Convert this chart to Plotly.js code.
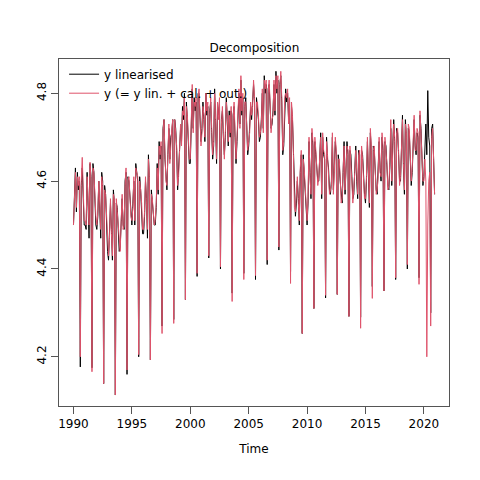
<!DOCTYPE html>
<html>
<head>
<meta charset="utf-8">
<script src="https://cdn.plot.ly/plotly-3.0.1.min.js"></script>
<style>html,body{margin:0;padding:0;background:#fff;}#chart{width:480px;height:480px;}</style>
</head>
<body>
<div id="chart"></div>
<script>
// Monthly series, Jan 1990 - Dec 2020
const startYear = 1990;
const seriesNames = ["y linearised", "y (= y lin. + cal. + out.)"];
const xTickLabels = ["1990", "1995", "2000", "2005", "2010", "2015", "2020"];
const yTickLabels = ["4.2", "4.4", "4.6", "4.8"];

const yLinearised = [
  4.50,4.55,4.63,4.53,4.62,4.58,4.60,4.177,4.59,4.63,4.56,4.50,
  4.50,4.49,4.62,4.55,4.47,4.64,4.61,4.175,4.64,4.62,4.55,4.50,
  4.49,4.52,4.60,4.55,4.47,4.62,4.60,4.139,4.59,4.57,4.50,4.44,
  4.42,4.48,4.55,4.49,4.42,4.58,4.55,4.113,4.55,4.54,4.50,4.44,
  4.45,4.50,4.56,4.50,4.49,4.60,4.62,4.160,4.61,4.60,4.56,4.52,
  4.50,4.55,4.60,4.50,4.64,4.62,4.60,4.200,4.61,4.58,4.54,4.48,
  4.48,4.52,4.60,4.56,4.47,4.66,4.60,4.193,4.58,4.55,4.53,4.50,
  4.50,4.54,4.64,4.57,4.69,4.65,4.68,4.270,4.72,4.74,4.65,4.60,
  4.58,4.66,4.72,4.65,4.70,4.71,4.74,4.285,4.74,4.72,4.67,4.58,
  4.62,4.66,4.72,4.69,4.77,4.74,4.80,4.330,4.78,4.74,4.69,4.64,
  4.64,4.74,4.81,4.72,4.79,4.76,4.78,4.383,4.80,4.80,4.74,4.69,
  4.72,4.78,4.74,4.69,4.80,4.75,4.77,4.425,4.76,4.78,4.71,4.65,
  4.68,4.81,4.73,4.64,4.77,4.75,4.78,4.400,4.74,4.76,4.70,4.66,
  4.70,4.79,4.74,4.68,4.76,4.70,4.76,4.345,4.75,4.77,4.70,4.64,
  4.69,4.74,4.80,4.73,4.83,4.75,4.79,4.390,4.77,4.79,4.73,4.66,
  4.68,4.72,4.77,4.74,4.78,4.82,4.78,4.376,4.79,4.77,4.74,4.69,
  4.70,4.74,4.80,4.72,4.84,4.80,4.82,4.410,4.81,4.82,4.77,4.72,
  4.73,4.76,4.82,4.75,4.85,4.80,4.83,4.443,4.82,4.84,4.78,4.66,
  4.68,4.78,4.81,4.78,4.80,4.74,4.78,4.394,4.77,4.74,4.65,4.55,
  4.52,4.55,4.60,4.56,4.50,4.62,4.66,4.253,4.66,4.62,4.58,4.54,
  4.50,4.55,4.69,4.62,4.56,4.71,4.68,4.310,4.69,4.66,4.63,4.60,
  4.60,4.64,4.71,4.56,4.70,4.66,4.65,4.334,4.70,4.65,4.63,4.58,
  4.57,4.60,4.70,4.58,4.63,4.69,4.66,4.342,4.66,4.64,4.60,4.56,
  4.55,4.62,4.69,4.57,4.64,4.69,4.66,4.292,4.67,4.66,4.61,4.56,
  4.57,4.61,4.68,4.60,4.56,4.67,4.66,4.290,4.67,4.66,4.60,4.57,
  4.55,4.60,4.69,4.62,4.54,4.71,4.67,4.360,4.68,4.67,4.62,4.58,
  4.57,4.62,4.69,4.63,4.60,4.70,4.67,4.350,4.69,4.68,4.63,4.59,
  4.58,4.63,4.72,4.59,4.68,4.74,4.69,4.376,4.72,4.71,4.66,4.60,
  4.60,4.66,4.75,4.63,4.57,4.74,4.70,4.400,4.72,4.71,4.66,4.59,
  4.62,4.69,4.74,4.68,4.66,4.71,4.70,4.380,4.75,4.72,4.67,4.59,
  4.61,4.66,4.73,4.66,4.806,4.70,4.68,4.300,4.72,4.73,4.66,4.57
];

const yFull = [
  4.50,4.56,4.62,4.54,4.61,4.59,4.61,4.200,4.60,4.654,4.56,4.51,
  4.51,4.50,4.61,4.56,4.50,4.643,4.60,4.166,4.63,4.62,4.56,4.52,
  4.50,4.53,4.60,4.54,4.49,4.61,4.59,4.139,4.58,4.57,4.51,4.45,
  4.43,4.47,4.56,4.48,4.43,4.57,4.56,4.113,4.56,4.53,4.50,4.45,
  4.44,4.51,4.57,4.49,4.50,4.59,4.63,4.170,4.60,4.61,4.55,4.52,
  4.51,4.54,4.61,4.51,4.63,4.62,4.61,4.205,4.60,4.58,4.55,4.49,
  4.49,4.53,4.61,4.55,4.49,4.65,4.61,4.193,4.57,4.56,4.53,4.50,
  4.51,4.55,4.63,4.58,4.68,4.66,4.69,4.253,4.71,4.74,4.66,4.60,
  4.59,4.65,4.73,4.64,4.70,4.72,4.74,4.276,4.74,4.71,4.68,4.59,
  4.61,4.67,4.73,4.68,4.76,4.75,4.79,4.330,4.77,4.75,4.70,4.65,
  4.65,4.73,4.82,4.71,4.78,4.77,4.79,4.390,4.79,4.81,4.75,4.68,
  4.71,4.77,4.75,4.70,4.80,4.76,4.78,4.430,4.75,4.79,4.72,4.66,
  4.69,4.80,4.74,4.65,4.78,4.74,4.79,4.405,4.73,4.77,4.71,4.65,
  4.71,4.78,4.75,4.69,4.75,4.71,4.77,4.326,4.74,4.78,4.71,4.65,
  4.70,4.75,4.81,4.72,4.84,4.76,4.80,4.376,4.78,4.78,4.74,4.67,
  4.69,4.71,4.78,4.75,4.77,4.83,4.79,4.385,4.78,4.78,4.75,4.70,
  4.71,4.73,4.81,4.71,4.83,4.81,4.83,4.420,4.80,4.83,4.78,4.71,
  4.74,4.75,4.83,4.76,4.84,4.81,4.84,4.450,4.81,4.85,4.79,4.67,
  4.69,4.79,4.80,4.79,4.81,4.73,4.79,4.367,4.78,4.75,4.66,4.54,
  4.53,4.56,4.61,4.55,4.51,4.63,4.67,4.253,4.65,4.63,4.59,4.53,
  4.51,4.56,4.70,4.61,4.57,4.72,4.69,4.310,4.70,4.67,4.62,4.59,
  4.61,4.65,4.70,4.57,4.71,4.67,4.66,4.340,4.69,4.66,4.62,4.57,
  4.58,4.59,4.71,4.57,4.62,4.70,4.67,4.342,4.65,4.65,4.61,4.55,
  4.56,4.61,4.68,4.58,4.63,4.68,4.67,4.292,4.68,4.65,4.60,4.55,
  4.58,4.62,4.67,4.61,4.57,4.66,4.67,4.265,4.68,4.65,4.61,4.56,
  4.56,4.61,4.70,4.61,4.55,4.72,4.68,4.333,4.67,4.68,4.61,4.57,
  4.58,4.61,4.70,4.62,4.61,4.71,4.68,4.350,4.70,4.67,4.64,4.58,
  4.59,4.64,4.74,4.60,4.69,4.73,4.70,4.380,4.71,4.72,4.67,4.59,
  4.61,4.67,4.74,4.64,4.58,4.73,4.71,4.410,4.73,4.72,4.65,4.60,
  4.63,4.68,4.75,4.67,4.67,4.72,4.71,4.365,4.76,4.71,4.66,4.60,
  4.60,4.65,4.60,4.20,4.50,4.60,4.62,4.270,4.70,4.72,4.65,4.57
];

const timeIdx = yLinearised.map((_, i) => startYear + i / 12);

const font = "DejaVu Sans, Liberation Sans, Arial, sans-serif";

const traces = [
  {x: timeIdx, y: yLinearised, type: "scatter", mode: "lines", name: seriesNames[0],
   line: {color: "#000000", width: 1}},
  {x: timeIdx, y: yFull, type: "scatter", mode: "lines", name: seriesNames[1],
   line: {color: "#DF536B", width: 1}}
];

const layout = {
  width: 480, height: 480,
  margin: {l: 59, r: 31, t: 59, b: 74, pad: 0},
  paper_bgcolor: "#ffffff", plot_bgcolor: "#ffffff",
  font: {family: font, size: 12, color: "#000000"},
  showlegend: true,
  title: {text: "Decomposition", font: {family: font, size: 12, color: "#000"},
          x: 0.53, xanchor: "center", y: 0.9, yanchor: "middle"},
  xaxis: {
    range: [1988.76, 2022.15], showgrid: false, zeroline: false,
    tickmode: "array", tickvals: xTickLabels.map(Number), ticktext: xTickLabels,
    ticks: "outside", ticklen: 7, tickcolor: "#555", tickwidth: 1,
    showline: true, mirror: true, linecolor: "#555", linewidth: 1,
    tickfont: {family: font, size: 12, color: "#000"},
    title: {text: "Time", font: {family: font, size: 12, color: "#000"}, standoff: 14}
  },
  yaxis: {
    range: [4.088, 4.878], showgrid: false, zeroline: false,
    tickmode: "array", tickvals: yTickLabels.map(Number), ticktext: yTickLabels,
    ticks: "outside", ticklen: 7, tickcolor: "#555", tickwidth: 1, tickangle: -90,
    showline: true, mirror: true, linecolor: "#555", linewidth: 1,
    tickfont: {family: font, size: 12, color: "#000"}
  },
  legend: {x: 0.013, y: 0.998, xanchor: "left", yanchor: "top",
           bgcolor: "rgba(0,0,0,0)", borderwidth: 0,
           font: {family: font, size: 12, color: "#000"}, tracegroupgap: 0}
};

Plotly.newPlot("chart", traces, layout, {displayModeBar: false, staticPlot: true});
</script>
</body>
</html>
